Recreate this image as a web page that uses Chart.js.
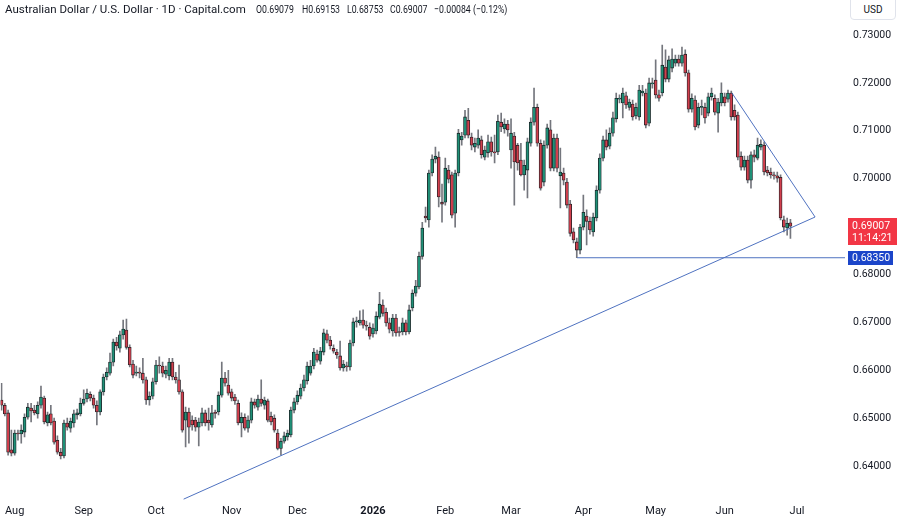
<!DOCTYPE html>
<html lang="en">
<head>
    <meta charset="UTF-8">
    <title>AUD/USD 1D</title>
    <style>
        body {
            margin: 0;
            background: #ffffff;
            font-family: Roboto, 'Noto Sans', sans-serif;
        }

        .wrap {
            position: relative;
            width: 900px;
            height: 520px;
        }

        #chart {
            position: absolute;
            left: 0;
            top: 0;
        }

        .legend {
            position: absolute;
            top: 2px;
            font-size: 11.5px;
            color: #131722;
            white-space: nowrap;
        }

        .legend.val {
            transform: scaleX(0.76);
            transform-origin: left top;
        }

        .ccy {
            position: absolute;
            left: 850px;
            top: -1px;
            width: 44px;
            height: 19px;
            border: 1px solid #e0e3eb;
            border-radius: 0 0 4px 4px;
            font-size: 10px;
            line-height: 19px;
            text-align: center;
            color: #131722;
            background: #fff;
        }
    </style>
    <script src="https://cdn.jsdelivr.net/npm/chart.js"></script>
</head>
<body>
<div class="wrap">
    <canvas id="chart" width="900" height="520"></canvas>
    <div class="legend" style="left:5px">Australian Dollar / U.S. Dollar · 1D · Capital.com</div>
    <div class="legend val" style="left:256px">O0.69079</div>
    <div class="legend val" style="left:302px">H0.69153</div>
    <div class="legend val" style="left:347px">L0.68753</div>
    <div class="legend val" style="left:390px">C0.69007</div>
    <div class="legend val" style="left:434px">−0.00084 (−0.12%)</div>
    <div class="ccy">USD</div>
</div>

<script>
    // daily bars, first one is Mon 28 Jul 2025, last one Mon 29 Jun 2026
    const opens = [
        .6538,.6527,.6511,.6434,.6427,.6469,.6467,.6471,.6502,.6521,
        .6517,.6509,.6527,.6542,.6490,.6509,.6494,.6454,.6429,.6421,
        .6490,.6479,.6490,.6507,.6509,.6531,.6540,.6550,.6542,.6527,
        .6513,.6555,.6586,.6594,.6617,.6659,.6646,.6674,.6684,.6648,
        .6613,.6594,.6596,.6594,.6580,.6538,.6546,.6576,.6611,.6609,
        .6592,.6588,.6617,.6586,.6580,.6555,.6496,.6513,.6496,.6496,
        .6481,.6490,.6511,.6496,.6486,.6511,.6513,.6548,.6584,.6569,
        .6555,.6544,.6531,.6490,.6502,.6479,.6496,.6534,.6523,.6540,
        .6527,.6536,.6504,.6500,.6469,.6437,.6452,.6461,.6465,.6517,
        .6534,.6546,.6563,.6578,.6594,.6609,.6634,.6619,.6638,.6676,
        .6663,.6646,.6638,.6630,.6605,.6609,.6607,.6657,.6701,.6699,
        .6705,.6694,.6690,.6676,.6682,.6711,.6736,.6721,.6699,.6682,
        .6709,.6680,.6680,.6699,.6680,.6730,.6761,.6774,.6838,.6922,
        .6914,.7012,.7041,.7045,.6951,.6951,.7018,.7008,.6928,.7012,
        .7081,.7091,.7122,.7087,.7066,.7070,.7081,.7045,.7054,.7077,
        .7056,.7056,.7118,.7104,.7114,.7060,.7089,.7070,.7039,.7008,
        .7018,.7074,.7118,.7149,.7074,.6993,.7070,.7102,.7022,.7085,
        .7006,.7012,.6993,.6947,.6889,.6868,.6851,.6899,.6922,.6911,
        .6889,.6918,.6976,.7043,.7081,.7068,.7095,.7125,.7166,.7158,
        .7173,.7149,.7156,.7131,.7129,.7179,.7179,.7116,.7198,.7206,
        .7175,.7179,.7233,.7208,.7231,.7241,.7250,.7241,.7260,.7221,
        .7145,.7164,.7112,.7149,.7149,.7137,.7171,.7168,.7137,.7158,
        .7171,.7166,.7179,.7143,.7133,.7047,.7024,.7039,.6997,.7050,
        .7043,.7066,.7070,.7018,.7014,.7008,.7006,.7003,.6914,.6897,
        .69079
    ];
    const highs = [
        .6573,.6531,.6517,.6475,.6475,.6475,.6486,.6509,.6531,.6531,
        .6527,.6534,.6567,.6546,.6513,.6527,.6500,.6463,.6437,.6496,
        .6500,.6500,.6517,.6519,.6542,.6559,.6561,.6555,.6548,.6536,
        .6559,.6592,.6605,.6636,.6665,.6669,.6682,.6705,.6707,.6653,
        .6621,.6609,.6605,.6625,.6586,.6555,.6584,.6621,.6628,.6617,
        .6609,.6625,.6625,.6596,.6611,.6559,.6523,.6521,.6505,.6502,
        .6500,.6521,.6517,.6521,.6527,.6517,.6555,.6617,.6596,.6600,
        .6561,.6550,.6538,.6511,.6509,.6505,.6542,.6540,.6548,.6580,
        .6544,.6540,.6513,.6507,.6477,.6458,.6471,.6475,.6523,.6542,
        .6557,.6571,.6590,.6617,.6621,.6646,.6642,.6648,.6686,.6684,
        .6671,.6653,.6644,.6661,.6621,.6617,.6663,.6709,.6711,.6724,
        .6726,.6703,.6699,.6697,.6722,.6763,.6747,.6730,.6709,.6717,
        .6717,.6690,.6709,.6705,.6736,.6768,.6788,.6847,.6909,.6941,
        .7018,.7050,.7066,.7056,.6989,.7043,.7028,.7014,.7018,.7103,
        .7097,.7143,.7147,.7095,.7085,.7102,.7089,.7068,.7091,.7087,
        .7091,.7133,.7137,.7125,.7122,.7125,.7097,.7074,.7074,.7039,
        .7085,.7127,.7189,.7156,.7081,.7079,.7114,.7122,.7093,.7093,
        .7064,.7022,.7001,.6955,.6897,.6876,.6905,.6966,.6935,.6920,
        .6928,.6985,.7052,.7089,.7102,.7106,.7139,.7179,.7175,.7189,
        .7181,.7166,.7164,.7158,.7195,.7195,.7187,.7210,.7210,.7248,
        .7185,.7279,.7269,.7256,.7271,.7258,.7258,.7275,.7269,.7227,
        .7177,.7173,.7158,.7164,.7158,.7179,.7189,.7175,.7168,.7200,
        .7179,.7185,.7183,.7154,.7139,.7056,.7047,.7047,.7056,.7060,
        .7085,.7081,.7077,.7026,.7022,.7014,.7014,.7008,.6922,.6918,
        .69153
    ];
    const lows = [
        .6517,.6505,.6423,.6421,.6423,.6454,.6448,.6461,.6498,.6492,
        .6507,.6500,.6521,.6488,.6484,.6486,.6446,.6425,.6415,.6417,
        .6475,.6471,.6481,.6498,.6505,.6527,.6534,.6536,.6521,.6486,
        .6507,.6548,.6580,.6590,.6609,.6642,.6638,.6665,.6644,.6607,
        .6584,.6588,.6584,.6573,.6529,.6527,.6540,.6571,.6594,.6586,
        .6584,.6580,.6580,.6573,.6550,.6471,.6440,.6448,.6475,.6473,
        .6442,.6484,.6484,.6475,.6481,.6500,.6507,.6544,.6567,.6548,
        .6536,.6529,.6486,.6461,.6475,.6471,.6490,.6521,.6517,.6525,
        .6519,.6492,.6486,.6471,.6434,.6423,.6448,.6454,.6461,.6511,
        .6529,.6540,.6557,.6571,.6590,.6603,.6617,.6613,.6632,.6657,
        .6644,.6636,.6625,.6600,.6598,.6598,.6600,.6651,.6690,.6694,
        .6688,.6684,.6665,.6669,.6676,.6707,.6713,.6692,.6678,.6671,
        .6671,.6671,.6674,.6674,.6676,.6724,.6755,.6770,.6832,.6909,
        .6899,.7006,.7033,.6941,.6909,.6945,.6991,.6918,.6899,.7006,
        .7070,.7085,.7085,.7060,.7056,.7064,.7043,.7039,.7045,.7047,
        .7033,.7050,.7098,.7095,.7089,.7022,.6945,.7018,.7006,.6976,
        .6960,.7068,.7112,.7068,.6976,.6985,.7064,.7016,.7016,.7014,
        .6939,.6987,.6939,.6880,.6866,.6835,.6843,.6893,.6862,.6884,
        .6880,.6912,.6970,.7037,.7060,.7062,.7089,.7118,.7158,.7127,
        .7147,.7143,.7122,.7125,.7122,.7173,.7106,.7110,.7189,.7168,
        .7162,.7173,.7202,.7202,.7223,.7235,.7235,.7235,.7214,.7139,
        .7139,.7102,.7106,.7133,.7116,.7131,.7164,.7133,.7097,.7152,
        .7152,.7160,.7122,.7122,.7039,.7018,.7018,.6991,.6980,.7035,
        .7039,.7060,.7008,.7006,.7001,.6999,.6993,.6914,.6889,.6882,
        .68753
    ];
    const closes = [
        .6527,.6509,.6429,.6427,.6469,.6467,.6475,.6502,.6523,.6515,
        .6511,.6527,.6544,.6492,.6507,.6490,.6450,.6429,.6421,.6490,
        .6481,.6494,.6509,.6511,.6531,.6540,.6552,.6542,.6527,.6513,
        .6555,.6586,.6596,.6617,.6659,.6651,.6674,.6686,.6648,.6611,
        .6590,.6596,.6594,.6580,.6538,.6546,.6576,.6611,.6609,.6594,
        .6600,.6617,.6586,.6580,.6555,.6475,.6513,.6481,.6486,.6481,
        .6492,.6511,.6490,.6490,.6511,.6510,.6548,.6584,.6573,.6552,
        .6542,.6536,.6490,.6502,.6479,.6496,.6534,.6527,.6540,.6531,
        .6538,.6496,.6492,.6475,.6437,.6452,.6463,.6469,.6517,.6534,
        .6548,.6563,.6580,.6609,.6609,.6638,.6621,.6640,.6678,.6663,
        .6651,.6640,.6632,.6605,.6613,.6607,.6657,.6701,.6702,.6705,
        .6694,.6692,.6671,.6688,.6713,.6738,.6719,.6699,.6686,.6709,
        .6678,.6679,.6699,.6680,.6726,.6761,.6776,.6838,.6897,.6918,
        .7012,.7041,.7047,.6962,.6947,.7022,.6999,.6924,.7012,.7095,
        .7089,.7129,.7091,.7070,.7074,.7085,.7050,.7060,.7077,.7056,
        .7054,.7120,.7108,.7114,.7102,.7095,.7035,.7033,.7008,.7028,
        .7077,.7118,.7149,.7074,.6980,.7070,.7106,.7022,.7085,.7022,
        .7014,.6997,.6945,.6886,.6872,.6851,.6899,.6930,.6911,.6893,
        .6920,.6976,.7043,.7081,.7066,.7095,.7127,.7168,.7167,.7179,
        .7154,.7160,.7129,.7149,.7185,.7183,.7112,.7200,.7199,.7175,
        .7168,.7237,.7208,.7248,.7250,.7250,.7241,.7258,.7221,.7145,
        .7168,.7108,.7149,.7150,.7127,.7171,.7179,.7139,.7160,.7179,
        .7158,.7179,.7129,.7129,.7045,.7024,.7039,.6997,.7050,.7045,
        .7070,.7072,.7014,.7012,.7008,.7006,.7001,.6918,.6899,.6907,
        .69007
    ];

    // month labels on the time axis, placed at the bar index of the first trading day
    const monthLabels = ['Aug', 'Sep', 'Oct', 'Nov', 'Dec', '2026', 'Feb', 'Mar', 'Apr', 'May', 'Jun', 'Jul'];
    const monthBarIndex = [4, 25, 47, 70, 90, 113, 135, 155, 177, 199, 220, 242];

    // price axis ticks
    const priceTicks = [0.64, 0.65, 0.66, 0.67, 0.68, 0.69, 0.70, 0.71, 0.72, 0.73];

    // drawn lines (bar index, price)
    const risingTrend = [{ x: 55.4, y: 0.6331 }, { x: 247.5, y: 0.6920 }];
    const fallingTrend = [{ x: 222.2, y: 0.7179 }, { x: 247.5, y: 0.6920 }];
    const supportLevel = 0.6835;
    const supportFrom = 175.1;

    const lastPrice = 0.69007;
    const countdown = '11:14:21';

    const upColor = '#1f9077';
    const downColor = '#d23f4d';
    const edgeColor = '#1d2024';
    const wickColor = '#74767d';
    const lineBlue = '#4f72c0';
    const axisFont = 'Roboto, "Noto Sans", sans-serif';

    const xMin = -0.26;
    const xMax = 256.6;

    const wickData = closes.map((c, k) => ({ x: k, y: [lows[k], highs[k]] }));
    const bodyData = closes.map((c, k) => ({ x: k, y: [opens[k], c] }));

    const priceTags = {
        id: 'priceTags',
        afterDraw(chart) {
            const { ctx, chartArea } = chart;
            const yScale = chart.scales.y;
            const left = chartArea.right + 3;
            ctx.save();
            ctx.font = '10.5px ' + axisFont;
            ctx.textBaseline = 'middle';

            // last price + countdown
            let py = Math.round(yScale.getPixelForValue(lastPrice));
            ctx.fillStyle = '#f23645';
            ctx.fillRect(left, py - 8, 49, 27);
            ctx.fillStyle = '#ffffff';
            ctx.fillText(lastPrice.toFixed(5), left + 4, py);
            ctx.fillText(countdown, left + 4, py + 12);

            // support level tag
            py = Math.round(yScale.getPixelForValue(supportLevel));
            ctx.fillStyle = '#1b45c9';
            ctx.fillRect(left, py - 7, 45, 14);
            ctx.fillStyle = '#ffffff';
            ctx.fillText(supportLevel.toFixed(5), left + 4, py);
            ctx.restore();
        }
    };

    new Chart(document.getElementById('chart'), {
        type: 'bar',
        data: {
            datasets: [
                {
                    label: 'Wicks',
                    data: wickData,
                    backgroundColor: wickColor,
                    barThickness: 1,
                    grouped: false,
                    order: 3
                },
                {
                    label: 'AUD/USD',
                    data: bodyData,
                    backgroundColor: ctx => closes[ctx.dataIndex] >= opens[ctx.dataIndex] ? upColor : downColor,
                    borderColor: edgeColor,
                    borderWidth: 0.8,
                    borderSkipped: false,
                    barThickness: 3,
                    minBarLength: 1,
                    grouped: false,
                    order: 2
                },
                {
                    type: 'line',
                    label: 'Rising trend',
                    data: risingTrend,
                    borderColor: lineBlue,
                    borderWidth: 1,
                    pointRadius: 0,
                    order: 1
                },
                {
                    type: 'line',
                    label: 'Falling trend',
                    data: fallingTrend,
                    borderColor: lineBlue,
                    borderWidth: 1,
                    pointRadius: 0,
                    order: 1
                },
                {
                    type: 'line',
                    label: 'Support',
                    data: [{ x: supportFrom, y: supportLevel }, { x: xMax, y: supportLevel }],
                    borderColor: lineBlue,
                    borderWidth: 1,
                    pointRadius: 0,
                    order: 1
                }
            ]
        },
        options: {
            responsive: false,
            devicePixelRatio: 1,
            animation: false,
            layout: { padding: 0 },
            plugins: {
                legend: { display: false },
                tooltip: { enabled: false }
            },
            scales: {
                x: {
                    type: 'linear',
                    min: xMin,
                    max: xMax,
                    offset: false,
                    grid: { display: false, drawTicks: false },
                    border: { display: false },
                    afterFit: scale => { scale.height = 20; },
                    afterBuildTicks: scale => {
                        scale.ticks = monthBarIndex.map(v => ({ value: v }));
                    },
                    ticks: {
                        autoSkip: false,
                        maxRotation: 0,
                        padding: 5,
                        color: '#131722',
                        font: ctx => ({
                            family: axisFont,
                            size: 11,
                            weight: monthLabels[ctx.index] === '2026' ? 'bold' : 'normal'
                        }),
                        callback: (value, index) => monthLabels[index]
                    }
                },
                y: {
                    type: 'linear',
                    position: 'right',
                    min: 0.63292,
                    max: 0.73731,
                    grid: { display: false, drawTicks: false },
                    border: { display: false },
                    afterFit: scale => {
                        scale.width = 55;
                        scale.paddingTop = 0;
                        scale.paddingBottom = 0;
                    },
                    afterBuildTicks: scale => {
                        scale.ticks = priceTicks.map(v => ({ value: v }));
                    },
                    ticks: {
                        padding: 8,
                        color: '#131722',
                        font: { family: axisFont, size: 10.5 },
                        callback: value => value.toFixed(5)
                    }
                }
            }
        },
        plugins: [priceTags]
    });
</script>
</body>
</html>
